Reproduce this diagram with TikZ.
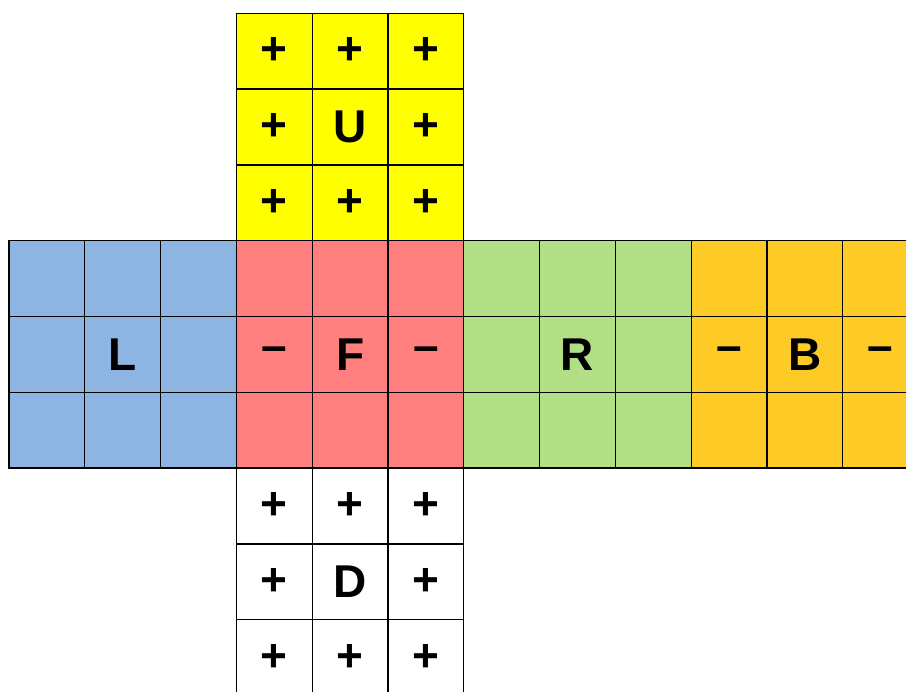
\documentclass[tikz,border=0pt]{standalone}
\usepackage{fontspec}
\setmainfont{Liberation Sans}
\definecolor{cU}{HTML}{FFFF00}
\definecolor{cL}{HTML}{8EB4E2}
\definecolor{cF}{HTML}{FF7F7F}
\definecolor{cR}{HTML}{B2DE86}
\definecolor{cB}{HTML}{FECA26}
\definecolor{cD}{HTML}{FFFFFF}
\begin{document}
\begin{tikzpicture}[x=1pt,y=-1pt,
  cell/.style={draw=black, line width=1.3pt, minimum size=75.8pt, inner sep=0pt, outer sep=0pt,
    anchor=north west, font=\fontsize{46}{46}\selectfont\bfseries}]
\useasboundingbox (0,0) rectangle (906,692);
\clip (0,0) rectangle (906,692);
\def\cs{75.8}
\foreach \face/\fc/\fr/\labs in {
  U/3/0/{+,+,+,+,U,+,+,+,+},
  L/0/3/{{},{},{},{},L,{},{},{},{}},
  F/3/3/{{},{},{},–,F,–,{},{},{}},
  R/6/3/{{},{},{},{},R,{},{},{},{}},
  B/9/3/{{},{},{},–,B,–,{},{},{}},
  D/3/6/{+,+,+,+,D,+,+,+,+}}{
  \foreach \lab [count=\k from 0] in \labs {
    \pgfmathtruncatemacro{\ci}{mod(\k,3)}
    \pgfmathtruncatemacro{\ri}{div(\k,3)}
    \node[cell, fill=c\face] (\face-\k) at ({9+\cs*(\fc+\ci)},{13.3+\cs*(\fr+\ri)}) {\lab};
  }
}
\end{tikzpicture}
\end{document}
